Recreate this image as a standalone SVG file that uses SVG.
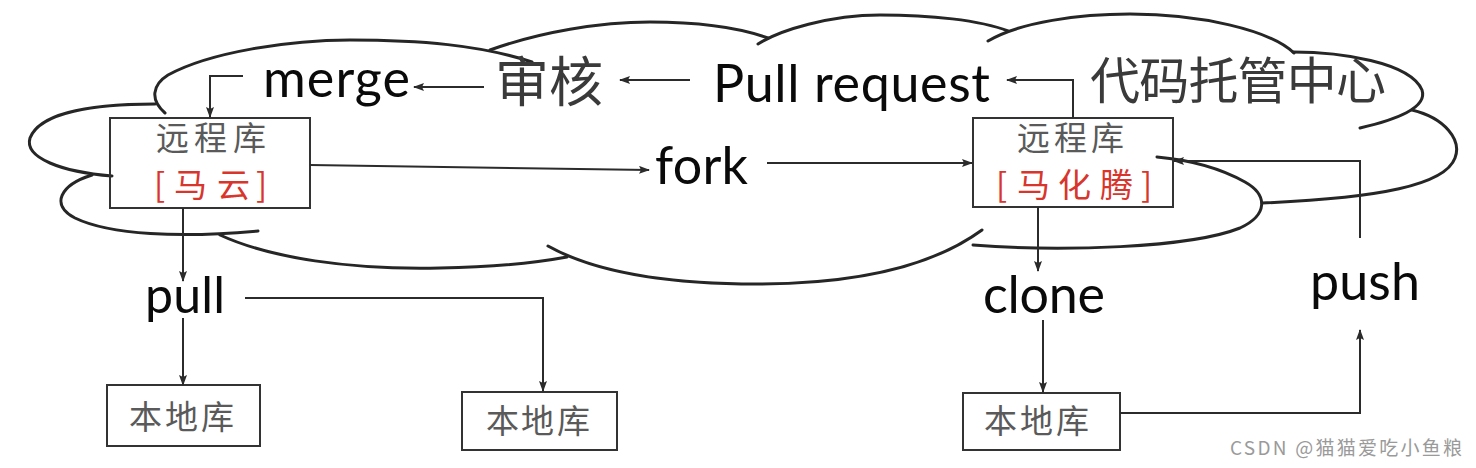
<svg xmlns="http://www.w3.org/2000/svg" width="1476" height="468" viewBox="0 0 1476 468">
<defs>
<style>
.cloud{fill:none;stroke:#262626;stroke-width:3;stroke-linecap:round}
.box{fill:none;stroke:#333;stroke-width:2}
.edge{fill:none;stroke:#2b2b2b;stroke-width:2}
.lat{font-family:Lato,"Open Sans","Liberation Sans",sans-serif;fill:#0a0a0a}
.cjk{font-family:"Noto Sans CJK SC","Noto Sans",sans-serif;fill:#3a3a3a}
.gray{font-family:"Noto Sans CJK SC","Noto Sans",sans-serif;fill:#5a5a5a;font-size:33px}
.red{font-family:"Noto Sans CJK SC","Noto Sans",sans-serif;fill:#d8352c;font-size:33px}
</style>
<marker id="ah" markerUnits="userSpaceOnUse" markerWidth="11" markerHeight="8" refX="10" refY="4" orient="auto">
<path d="M0,0 L11,4 L0,8 L2,4 z" fill="#2b2b2b"/>
</marker>
</defs>
<rect width="1476" height="468" fill="#fff"/>

<g id="cloud">
<path class="cloud" d="M155,104 C95,104 40,112 30,138 C24,158 62,172 112,176"/>
<path class="cloud" d="M165,113 C150,100 152,85 168,75 C210,52 290,40 350,40 C420,40 480,45 532,62"/>
<path class="cloud" d="M490,50 C540,32 600,22 650,22 C700,22 740,28 768,38"/>
<path class="cloud" d="M758,44 C780,30 830,15 880,15 C930,15 980,20 1008,31"/>
<path class="cloud" d="M988,41 C1020,22 1080,14 1130,14 C1200,14 1270,30 1294,53"/>
<path class="cloud" d="M1293,52 C1340,52 1410,62 1422,90 C1428,108 1395,120 1360,128"/>
<path class="cloud" d="M1412,110 C1445,118 1462,140 1455,158 C1445,185 1380,198 1262,203"/>
<path class="cloud" d="M973,245 C1060,252 1190,248 1240,228 C1268,215 1268,195 1245,182 C1220,168 1190,160 1157,157"/>
<path class="cloud" d="M548,246 C600,275 680,284 757,284 C850,284 930,268 982,230"/>
<path class="cloud" d="M220,235 C270,258 350,270 440,268 C500,267 540,262 567,257"/>
<path class="cloud" d="M92,175 C60,185 50,205 75,218 C110,235 180,238 258,231"/>
</g>

<g id="labels">
<text class="cjk" x="495" y="102" font-size="54" textLength="108">审核</text>
<text class="cjk" x="1090" y="99" font-size="50" textLength="296">代码托管中心</text>
<text class="lat" x="263" y="97" font-size="52" textLength="147">merge</text>
<text class="lat" x="713" y="102" font-size="52" textLength="277">Pull request</text>
<text class="lat" x="655" y="184" font-size="52" textLength="93">fork</text>
<text class="lat" x="145" y="313" font-size="50" textLength="80">pull</text>
<text class="lat" x="983" y="313" font-size="52" textLength="122">clone</text>
<text class="lat" x="1310" y="300" font-size="52" textLength="110">push</text>
</g>

<g id="remote-mayun">
<rect class="box" x="110" y="118" width="200" height="90"/>
<text class="gray" x="156 194 233" y="150">远程库</text>
<text class="red" y="197"><tspan x="154">[</tspan><tspan x="174">马</tspan><tspan x="217">云</tspan><tspan x="256">]</tspan></text>
</g>

<g id="remote-mahuateng">
<rect class="box" x="973" y="118" width="200" height="89"/>
<text class="gray" x="1017 1054 1091" y="150">远程库</text>
<text class="red" y="197"><tspan x="996">[</tspan><tspan x="1017">马</tspan><tspan x="1058">化</tspan><tspan x="1100">腾</tspan><tspan x="1141">]</tspan></text>
</g>

<g id="local-1">
<rect class="box" x="107" y="385" width="153" height="61"/>
<text class="gray" x="129 165 201" y="429">本地库</text>
</g>
<g id="local-2">
<rect class="box" x="462" y="392" width="155" height="58"/>
<text class="gray" x="486 521 557" y="433">本地库</text>
</g>
<g id="local-3">
<rect class="box" x="963" y="393" width="157" height="57"/>
<text class="gray" x="984 1020 1056" y="433">本地库</text>
</g>

<g id="connectors">
<path class="edge" marker-end="url(#ah)" d="M243,76 H210 V117"/>
<path class="edge" marker-end="url(#ah)" d="M484,87 H414"/>
<path class="edge" marker-end="url(#ah)" d="M690,80 H620"/>
<path class="edge" marker-end="url(#ah)" d="M1073,118 V80 H1007"/>
<path class="edge" marker-end="url(#ah)" d="M310,165 L649,170"/>
<path class="edge" marker-end="url(#ah)" d="M767,163 H972"/>
<path class="edge" marker-end="url(#ah)" d="M1360,238 V161 H1174"/>
<path class="edge" marker-end="url(#ah)" d="M183,208 V281"/>
<path class="edge" marker-end="url(#ah)" d="M183,318 V385"/>
<path class="edge" marker-end="url(#ah)" d="M245,298 H543 V391"/>
<path class="edge" marker-end="url(#ah)" d="M1038,207 V271"/>
<path class="edge" marker-end="url(#ah)" d="M1043,320 V392"/>
<path class="edge" marker-end="url(#ah)" d="M1120,413 H1360 V330"/>
</g>

<text x="1230" y="455" font-family="'Noto Sans CJK SC','Noto Sans',sans-serif" font-size="19" fill="#9a9a9a" textLength="232">CSDN @猫猫爱吃小鱼粮</text>
</svg>
